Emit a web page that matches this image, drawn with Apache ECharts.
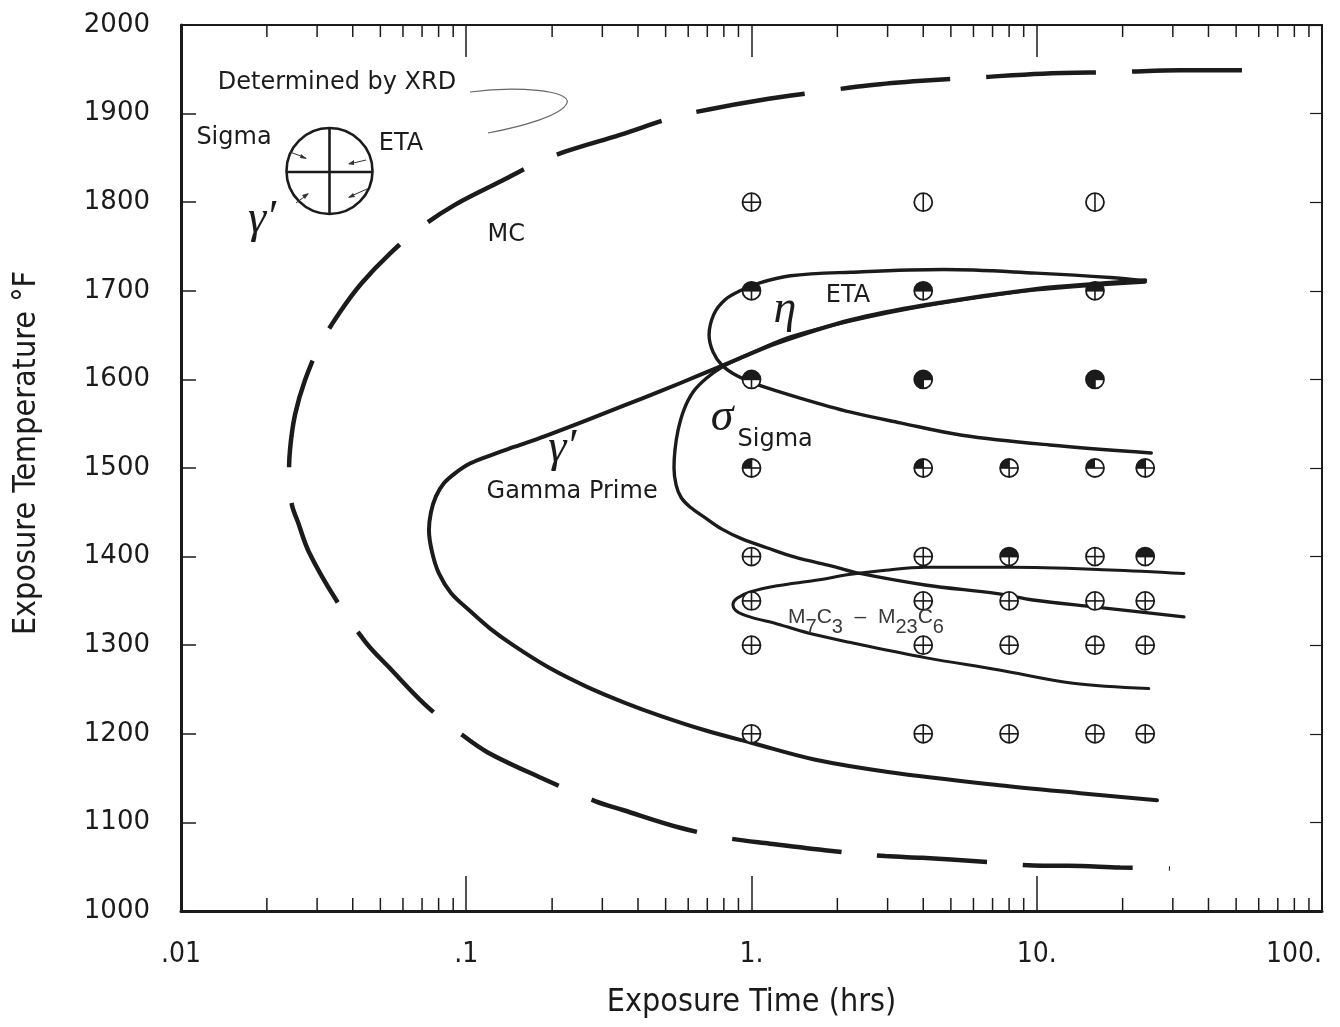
<!DOCTYPE html>
<html>
<head>
<meta charset="utf-8">
<script src="https://cdn.jsdelivr.net/npm/echarts@6/dist/echarts.min.js"></script>
<style>
html,body{margin:0;padding:0;background:#fff}
#main{width:1340px;height:1027px}
</style>
</head>
<body>
<div id="main"></div>
<script>
// axis ticks
var xTickLabels = ['.01', '.1', '1.', '10.', '100.'];
var minorTicks = [0.02,0.03,0.04,0.05,0.06,0.07,0.08,0.09,
                  0.2,0.3,0.4,0.5,0.6,0.7,0.8,0.9,
                  2,3,4,5,6,7,8,9,
                  20,30,40,50,60,70,80,90];

// curves: [time hrs, temperature F]
var mcCurve = [[52.4,1949],[31.8,1949],[19.6,1947],[10.5,1945],[6.32,1941],[3.96,1937],[2.60,1932],[1.68,1924],
  [1.07,1915],[0.715,1905],[0.535,1896],[0.346,1876],[0.222,1857],[0.176,1844],[0.131,1823],[0.0912,1797],[0.0688,1771],
  [0.0540,1742],[0.0431,1709],[0.0361,1676],[0.0307,1639],[0.0272,1599],[0.0251,1560],[0.0241,1520],[0.0239,1486],
  [0.0245,1458],[0.0257,1439],[0.0281,1405],[0.0350,1351],[0.0445,1303],[0.0540,1274],[0.0717,1233],[0.0966,1199],
  [0.119,1179],[0.181,1151],[0.283,1124],[0.354,1114],[0.562,1094],[0.834,1082],
  [1.16,1076],[1.88,1068],[2.94,1062],[3.96,1060],[6.32,1056],[10.5,1051],[12.8,1051],[19.6,1049],[29.3,1048]];

var gammaCurve = [[26.4,1125],[14.2,1133],[7.38,1142],[3.01,1157],[1.66,1171],[1.02,1189],[0.687,1204],[0.482,1220],
  [0.360,1235],[0.265,1253],[0.194,1275],[0.146,1300],[0.121,1319],[0.102,1340],[0.0884,1359],[0.0802,1381],
  [0.0759,1405],[0.0740,1430],[0.0752,1450],[0.0783,1468],[0.0836,1483],[0.0913,1494],[0.103,1505],[0.121,1514],
  [0.148,1524],[0.189,1536],[0.265,1554],[0.360,1571],[0.482,1587],[0.660,1605],[0.912,1624],[1.23,1641],
  [2.23,1667],[4.06,1684],[9.94,1702],[18.1,1709],[24.0,1712]];

var etaCurve = [[24.0,1711],[18.1,1715],[9.94,1720],[4.73,1724],[2.23,1721],[1.37,1717],[1.07,1709],[0.912,1700],
  [0.808,1690],[0.739,1674],[0.710,1650],[0.733,1631],[0.788,1616],[0.890,1604],[1.03,1595],[1.48,1579],
  [2.23,1563],[3.32,1551],[5.47,1537],[11.1,1526],[25.2,1517]];

var sigmaCurve = [[24.0,1710],[9.94,1701],[4.06,1683],[2.23,1666],[1.37,1648],[1.07,1634],[0.912,1624],[0.788,1614],
  [0.693,1601],[0.625,1586],[0.580,1566],[0.553,1543],[0.539,1520],[0.535,1500],[0.544,1481],[0.566,1467],
  [0.609,1456],[0.687,1444],[0.788,1431],[0.926,1420],[1.13,1410],[1.43,1399],[1.93,1389],[2.40,1381],[4.06,1368],
  [7.38,1358],[9.70,1351],[16.1,1343],[32.8,1332]];

var carbideCurve = [[32.8,1381],[18.1,1385],[8.06,1388],[4.06,1388],[2.84,1384],[2.23,1380],[1.66,1373],[1.23,1367],
  [0.988,1360],[0.890,1353],[0.861,1346],[0.890,1338],[0.988,1332],[1.23,1324],[1.66,1312],[2.23,1303],
  [4.06,1286],[7.38,1272],[13.4,1257],[24.7,1251]];

// test points: [time, temp, filled quadrants, cross style]
var samples = [
  [1,1800,'','plus'],[4,1800,'','vert'],[16,1800,'','vert'],
  [1,1700,'UL UR','plus'],[4,1700,'UL UR','plus'],[16,1700,'UL UR','plus'],
  [1,1600,'UL UR','plus'],[4,1600,'UL UR LL','plus'],[16,1600,'UL UR LL','plus'],
  [1,1500,'UL','plus'],[4,1500,'UL','plus'],[8,1500,'UL','plus'],[16,1500,'UL','horiz'],[24,1500,'UL','plus'],
  [1,1400,'','plus'],[4,1400,'','plus'],[8,1400,'UL UR','plus'],[16,1400,'','plus'],[24,1400,'UL UR','plus'],
  [1,1350,'','plus'],[4,1350,'','plus'],[8,1350,'','plus'],[16,1350,'','plus'],[24,1350,'','plus'],
  [1,1300,'','plus'],[4,1300,'','plus'],[8,1300,'','plus'],[16,1300,'','plus'],[24,1300,'','plus'],
  [1,1200,'','plus'],[4,1200,'','plus'],[8,1200,'','plus'],[16,1200,'','plus'],[24,1200,'','plus']
];

// phase labels: [time, temp, text, kind]
var phaseLabels = [
  [0.138,1763,'MC','sans'],
  [2.18,1694,'ETA','sans'],
  [1.31,1678,'\u03b7','greek'],
  [0.789,1556,'\u03c3','greek'],
  [1.21,1532,'Sigma','sans'],
  [0.217,1522,'\u03b3\u2032','greek'],
  [0.235,1473,'Gamma Prime','sans'],
  [2.52,1326,'carbide','rich']
];

var ink = '#1b1b1b';
var sansFont = '"DejaVu Sans", sans-serif';
var narrowFont = '"Liberation Sans Narrow", "DejaVu Sans Condensed", "Liberation Sans", sans-serif';

var chartDom = document.getElementById('main');
var myChart = echarts.init(chartDom, null, {renderer: 'canvas'});

function curve(data, width) {
  return {
    type: 'line', data: data, symbol: 'none', smooth: 0.35, silent: true, z: 3,
    lineStyle: {color: ink, width: width, cap: 'round', join: 'round'}
  };
}

var option = {
  backgroundColor: '#ffffff',
  animation: false,
  grid: {left: 181, right: 18, top: 25, bottom: 116},
  xAxis: [
    {
      type: 'log', logBase: 10, min: 0.01, max: 100, position: 'bottom',
      name: 'Exposure Time (hrs)', nameLocation: 'middle', nameGap: 76,
      nameTextStyle: {fontSize: 32, fontFamily: narrowFont, color: ink},
      axisLine: {onZero: false, lineStyle: {color: ink, width: 3}},
      axisTick: {inside: true, length: 35, lineStyle: {color: ink, width: 1.5}},
      axisLabel: {
        margin: 30, fontSize: 28, fontFamily: narrowFont, color: ink, alignMaxLabel: 'right',
        formatter: function (v) { return xTickLabels[Math.round(Math.log10(v)) + 2]; }
      },
      splitLine: {show: false}
    },
    {
      type: 'log', logBase: 10, min: 0.01, max: 100, position: 'top',
      axisLine: {onZero: false, lineStyle: {color: ink, width: 2}},
      axisTick: {inside: true, length: 32, lineStyle: {color: ink, width: 1.5}},
      axisLabel: {show: false},
      splitLine: {show: false}
    }
  ],
  yAxis: [
    {
      type: 'value', min: 1000, max: 2000, interval: 100, position: 'left',
      name: 'Exposure Temperature \u00b0F', nameLocation: 'middle', nameGap: 138, nameRotate: 90,
      nameTextStyle: {fontSize: 32, fontFamily: narrowFont, color: ink, padding: [0, 0, 0, 30]},
      axisLine: {show: true, onZero: false, lineStyle: {color: ink, width: 3}},
      axisTick: {show: true, inside: true, length: 15, lineStyle: {color: ink, width: 1.5}},
      axisLabel: {
        margin: 31, fontSize: 26, fontFamily: sansFont, color: ink,
        formatter: function (v) { return String(v); }
      },
      splitLine: {show: false}
    },
    {
      type: 'value', min: 1000, max: 2000, interval: 100, position: 'right',
      axisLine: {show: true, onZero: false, lineStyle: {color: ink, width: 2}},
      axisTick: {show: true, inside: true, length: 12, lineStyle: {color: ink, width: 1.2}},
      axisLabel: {show: false},
      splitLine: {show: false}
    }
  ],
  series: [
    {
      type: 'line', data: mcCurve, symbol: 'none', smooth: 0.35, silent: true, z: 3,
      lineStyle: {color: ink, width: 4.5, type: [110, 36], cap: 'butt'}
    },
    curve(gammaCurve, 4),
    curve(etaCurve, 3.4),
    curve(sigmaCurve, 3.4),
    curve(carbideCurve, 3),
    {
      // minor ticks of the log axes, bottom and top
      type: 'custom', silent: true, z: 4, clip: false,
      data: minorTicks.map(function (v) { return [v, 1000]; }),
      renderItem: function (params, api) {
        var b = api.coord([api.value(0), 1000]);
        var t = api.coord([api.value(0), 2000]);
        var st = {stroke: ink, lineWidth: 1.5};
        return {type: 'group', children: [
          {type: 'line', shape: {x1: b[0], y1: b[1], x2: b[0], y2: b[1] - 13}, style: st},
          {type: 'line', shape: {x1: t[0], y1: t[1], x2: t[0], y2: t[1] + 12}, style: st}
        ]};
      }
    },
    {
      // test specimens
      type: 'custom', silent: true, z: 6,
      data: samples.map(function (s) { return [s[0], s[1]]; }),
      renderItem: function (params, api) {
        var c = api.coord([api.value(0), api.value(1)]);
        var s = samples[params.dataIndex];
        var r = 9;
        var quads = {UR: [-Math.PI / 2, 0], LR: [0, Math.PI / 2], LL: [Math.PI / 2, Math.PI], UL: [Math.PI, Math.PI * 1.5]};
        var kids = [{type: 'circle', shape: {cx: c[0], cy: c[1], r: r}, style: {fill: '#fff', stroke: null}}];
        s[2].split(' ').forEach(function (q) {
          if (!quads[q]) return;
          kids.push({type: 'sector', shape: {cx: c[0], cy: c[1], r0: 0, r: r, startAngle: quads[q][0], endAngle: quads[q][1]},
            style: {fill: ink}});
        });
        var ls = {stroke: ink, lineWidth: 1.6};
        kids.push({type: 'circle', shape: {cx: c[0], cy: c[1], r: r}, style: {fill: null, stroke: ink, lineWidth: 1.8}});
        if (s[3] !== 'horiz') kids.push({type: 'line', shape: {x1: c[0], y1: c[1] - r, x2: c[0], y2: c[1] + r}, style: ls});
        if (s[3] !== 'vert') kids.push({type: 'line', shape: {x1: c[0] - r, y1: c[1], x2: c[0] + r, y2: c[1]}, style: ls});
        return {type: 'group', children: kids};
      }
    },
    {
      // phase names
      type: 'custom', silent: true, z: 7,
      data: phaseLabels.map(function (l) { return [l[0], l[1]]; }),
      renderItem: function (params, api) {
        var c = api.coord([api.value(0), api.value(1)]);
        var l = phaseLabels[params.dataIndex];
        var style;
        if (l[3] === 'greek') {
          style = {text: l[2], font: 'italic 46px "Liberation Serif", serif', fill: ink};
        } else if (l[3] === 'rich') {
          style = {
            text: '{m|M}{s|7}{m|C}{s|3}{m|  \u2013  M}{s|23}{m|C}{s|6}', fill: '#3a3a3a',
            rich: {
              m: {fontSize: 21, fontFamily: '"Liberation Sans", sans-serif', fill: '#3a3a3a', lineHeight: 30, verticalAlign: 'top'},
              s: {fontSize: 20, fontFamily: '"Liberation Sans", sans-serif', fill: '#3a3a3a', lineHeight: 30, verticalAlign: 'bottom'}
            }
          };
        } else {
          style = {text: l[2], font: '24px ' + sansFont, fill: ink};
        }
        style.align = 'center';
        style.verticalAlign = 'middle';
        return {type: 'text', x: c[0], y: c[1], style: style};
      }
    }
  ],
  graphic: [
    // key circle for the specimen symbols
    {type: 'circle', shape: {cx: 329.5, cy: 171, r: 43}, style: {fill: null, stroke: ink, lineWidth: 2.6}, z: 10},
    {type: 'line', shape: {x1: 329.5, y1: 127, x2: 329.5, y2: 215}, style: {stroke: ink, lineWidth: 2.6}, z: 10},
    {type: 'line', shape: {x1: 287, y1: 172, x2: 372, y2: 172}, style: {stroke: ink, lineWidth: 2.6}, z: 10},
    {type: 'line', shape: {x1: 290, y1: 152, x2: 306, y2: 158}, style: {stroke: '#333', lineWidth: 1}, z: 10},
    {type: 'polygon', shape: {points: [[307, 159], [301, 154], [300, 158]]}, style: {fill: '#333'}, z: 10},
    {type: 'line', shape: {x1: 366, y1: 160, x2: 349, y2: 164}, style: {stroke: '#333', lineWidth: 1}, z: 10},
    {type: 'polygon', shape: {points: [[348, 164], [354, 160], [354, 165]]}, style: {fill: '#333'}, z: 10},
    {type: 'line', shape: {x1: 296, y1: 203, x2: 308, y2: 194}, style: {stroke: '#333', lineWidth: 1}, z: 10},
    {type: 'polygon', shape: {points: [[309, 193], [302, 195], [305, 199]]}, style: {fill: '#333'}, z: 10},
    {type: 'line', shape: {x1: 367, y1: 189, x2: 349, y2: 197}, style: {stroke: '#333', lineWidth: 1}, z: 10},
    {type: 'polygon', shape: {points: [[348, 198], [353, 193], [355, 197]]}, style: {fill: '#333'}, z: 10},
    {type: 'text', x: 234, y: 138, style: {text: 'Sigma', font: '24px ' + sansFont, fill: ink, align: 'center', verticalAlign: 'middle'}, z: 10},
    {type: 'text', x: 401, y: 144, style: {text: 'ETA', font: '24px ' + sansFont, fill: ink, align: 'center', verticalAlign: 'middle'}, z: 10},
    {type: 'text', x: 262, y: 220, style: {text: '\u03b3\u2032', font: 'italic 46px "Liberation Serif", serif', fill: ink, align: 'center', verticalAlign: 'middle'}, z: 10},
    {type: 'text', x: 337, y: 83, style: {text: 'Determined by XRD', font: '24px ' + sansFont, fill: ink, align: 'center', verticalAlign: 'middle'}, z: 10},
    {type: 'bezierCurve', shape: {x1: 470, y1: 92, cpx1: 515, cpy1: 86, cpx2: 572, cpy2: 90, x2: 567, y2: 103},
      style: {fill: null, stroke: '#666', lineWidth: 1.1}, z: 10},
    {type: 'bezierCurve', shape: {x1: 567, y1: 103, cpx1: 562, cpy1: 115, cpx2: 525, cpy2: 126, x2: 488, y2: 133},
      style: {fill: null, stroke: '#666', lineWidth: 1.1}, z: 10}
  ]
};

myChart.setOption(option);
</script>
</body>
</html>
